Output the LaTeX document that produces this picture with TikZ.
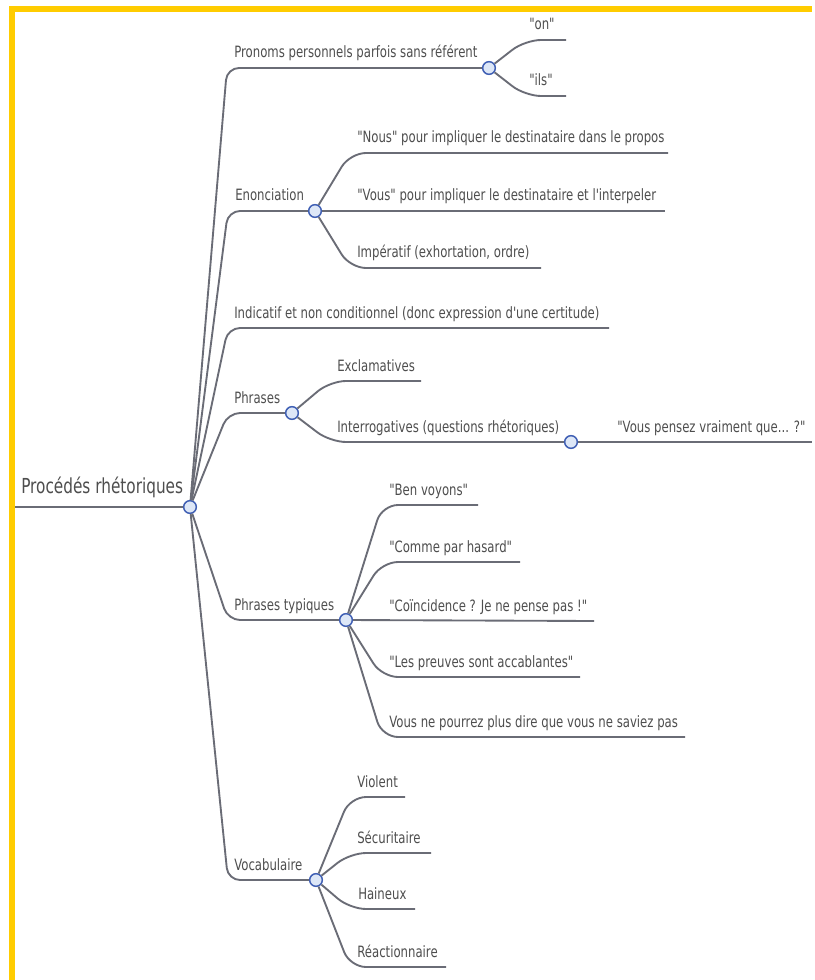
\documentclass[tikz,border=0pt]{standalone}
\usepackage{fontspec}
\setmainfont{DejaVu Sans}[Ligatures=TeXOff]
\usepackage{graphicx}

\definecolor{frame}{HTML}{FFCC00}
\definecolor{edge}{HTML}{6A6C76}
\definecolor{ring}{HTML}{3F5FB4}
\definecolor{ringfill}{HTML}{DDE7F7}
\definecolor{txt}{HTML}{4E4E4E}

% labels are set slightly condensed
\newcommand\narrow[1]{\scalebox{0.75}[1]{#1}}
\newcommand\narrowroot[1]{\scalebox{0.74}[1]{#1}}

\begin{document}
\begin{tikzpicture}[x=0.75pt,y=-0.75pt,
  branch/.style={draw=edge, line width=1.4pt, rounded corners=9pt},
  twig/.style={draw=edge, line width=1.4pt, rounded corners=12pt},
  hub/.style={circle, draw=ring, fill=ringfill, line width=1.1pt, minimum size=9.5pt, inner sep=0pt},
  lbl/.style={anchor=base west, inner sep=0pt, text=txt, font=\fontsize{11.7}{13}\selectfont},
  rootlbl/.style={lbl, font=\fontsize{15.5}{18}\selectfont}]

\useasboundingbox (0,0) rectangle (814,980);
\fill[white] (0,0) rectangle (814,980);
% yellow frame (top and left)
\fill[frame] (9,6) rectangle (812,12);
\fill[frame] (9,6) rectangle (15,980);

% ---------- hubs ----------
\node[hub] (R)  at (190,507) {};
\node[hub] (P1) at (489,68)  {};
\node[hub] (E)  at (315,211) {};
\node[hub] (Ph) at (292,413) {};
\node[hub] (I)  at (571,442) {};
\node[hub] (PT) at (346,620) {};
\node[hub] (V)  at (316,880) {};

% ---------- root ----------
\coordinate (r0) at (15,507);
\draw[branch] (r0) -- (R);
\node[rootlbl] (tR) at (21,493) {\narrowroot{Procédés rhétoriques}};

% ---------- corners and ends ----------
\coordinate (k1) at (227,68);
\coordinate (k2) at (228,211);
\coordinate (k3) at (228,328);  \coordinate (e3) at (609,328);
\coordinate (k4) at (228,413);
\coordinate (k5) at (228,620);
\coordinate (k6) at (228,880);

\draw[branch] (R) -- (k1) -- (P1);
\draw[branch] (R) -- (k2) -- (E);
\draw[branch] (R) -- (k3) -- (e3);
\draw[branch] (R) -- (k4) -- (Ph);
\draw[branch] (R) -- (k5) -- (PT);
\draw[branch] (R) -- (k6) -- (V);

\node[lbl] (t1) at (234,58)  {\narrow{Pronoms personnels parfois sans référent}};
\node[lbl] (t2) at (235,201) {\narrow{Enonciation}};
\node[lbl] (t3) at (234,318) {\narrow{Indicatif et non conditionnel (donc expression d'une certitude)}};
\node[lbl] (t4) at (234,403) {\narrow{Phrases}};
\node[lbl] (t5) at (234,610) {\narrow{Phrases typiques}};
\node[lbl] (t6) at (234,870) {\narrow{Vocabulaire}};

% ---------- pronoms ----------
\coordinate (k11) at (525,40); \coordinate (e11) at (566,40);
\coordinate (k12) at (525,96); \coordinate (e12) at (566,96);
\draw[twig] (P1) -- (k11) -- (e11);
\draw[twig] (P1) -- (k12) -- (e12);
\node[lbl] (t11) at (529,30) {\narrow{"on"}};
\node[lbl] (t12) at (529,86) {\narrow{"ils"}};

% ---------- enonciation ----------
\coordinate (k21) at (350,153); \coordinate (e21) at (668,153);
\coordinate (e22) at (665,211);
\coordinate (k23) at (350,268); \coordinate (e23) at (541,268);
\draw[twig] (E) -- (k21) -- (e21);
\draw[twig] (E) -- (e22);
\draw[twig] (E) -- (k23) -- (e23);
\node[lbl] (t21) at (357,143) {\narrow{"Nous" pour impliquer le destinataire dans le propos}};
\node[lbl] (t22) at (357,201) {\narrow{"Vous" pour impliquer le destinataire et l'interpeler}};
\node[lbl] (t23) at (357,258) {\narrow{Impératif (exhortation, ordre)}};

% ---------- phrases ----------
\coordinate (k41) at (330,381); \coordinate (e41) at (421,381);
\coordinate (k42) at (330,442);
\draw[twig] (Ph) -- (k41) -- (e41);
\draw[twig] (Ph) -- (k42) -- (I);
\node[lbl] (t41) at (337,371) {\narrow{Exclamatives}};
\node[lbl] (t42) at (337,432) {\narrow{Interrogatives (questions rhétoriques)}};
\coordinate (e421) at (812,442);
\draw[twig] (I) -- (e421);
\node[lbl] (t421) at (617,432) {\narrow{"Vous pensez vraiment que... ?"}};

% ---------- phrases typiques ----------
\coordinate (k51) at (382,505); \coordinate (e51) at (478,505);
\coordinate (k52) at (382,562); \coordinate (e52) at (520,562);
\coordinate (e53) at (594,621);
\coordinate (k54) at (382,677); \coordinate (e54) at (580,677);
\coordinate (k55) at (382,737); \coordinate (e55) at (685,737);
\draw[twig] (PT) -- (k51) -- (e51);
\draw[twig] (PT) -- (k52) -- (e52);
\draw[twig] (PT) -- (e53);
\draw[twig] (PT) -- (k54) -- (e54);
\draw[twig] (PT) -- (k55) -- (e55);
\node[lbl] (t51) at (389,495) {\narrow{"Ben voyons"}};
\node[lbl] (t52) at (389,552) {\narrow{"Comme par hasard"}};
\node[lbl] (t53) at (389,611) {\narrow{"Coïncidence ? Je ne pense pas !"}};
\node[lbl] (t54) at (389,667) {\narrow{"Les preuves sont accablantes"}};
\node[lbl] (t55) at (389,727) {\narrow{Vous ne pourrez plus dire que vous ne saviez pas}};

% ---------- vocabulaire ----------
\coordinate (k61) at (350,797); \coordinate (e61) at (405,797);
\coordinate (k62) at (350,853); \coordinate (e62) at (431,853);
\coordinate (k63) at (350,909); \coordinate (e63) at (415,909);
\coordinate (k64) at (350,967); \coordinate (e64) at (446,967);
\draw[twig] (V) -- (k61) -- (e61);
\draw[twig] (V) -- (k62) -- (e62);
\draw[twig] (V) -- (k63) -- (e63);
\draw[twig] (V) -- (k64) -- (e64);
\node[lbl] (t61) at (357,787) {\narrow{Violent}};
\node[lbl] (t62) at (357,843) {\narrow{Sécuritaire}};
\node[lbl] (t63) at (358,899) {\narrow{Haineux}};
\node[lbl] (t64) at (357,957) {\narrow{Réactionnaire}};
\end{tikzpicture}
\end{document}
